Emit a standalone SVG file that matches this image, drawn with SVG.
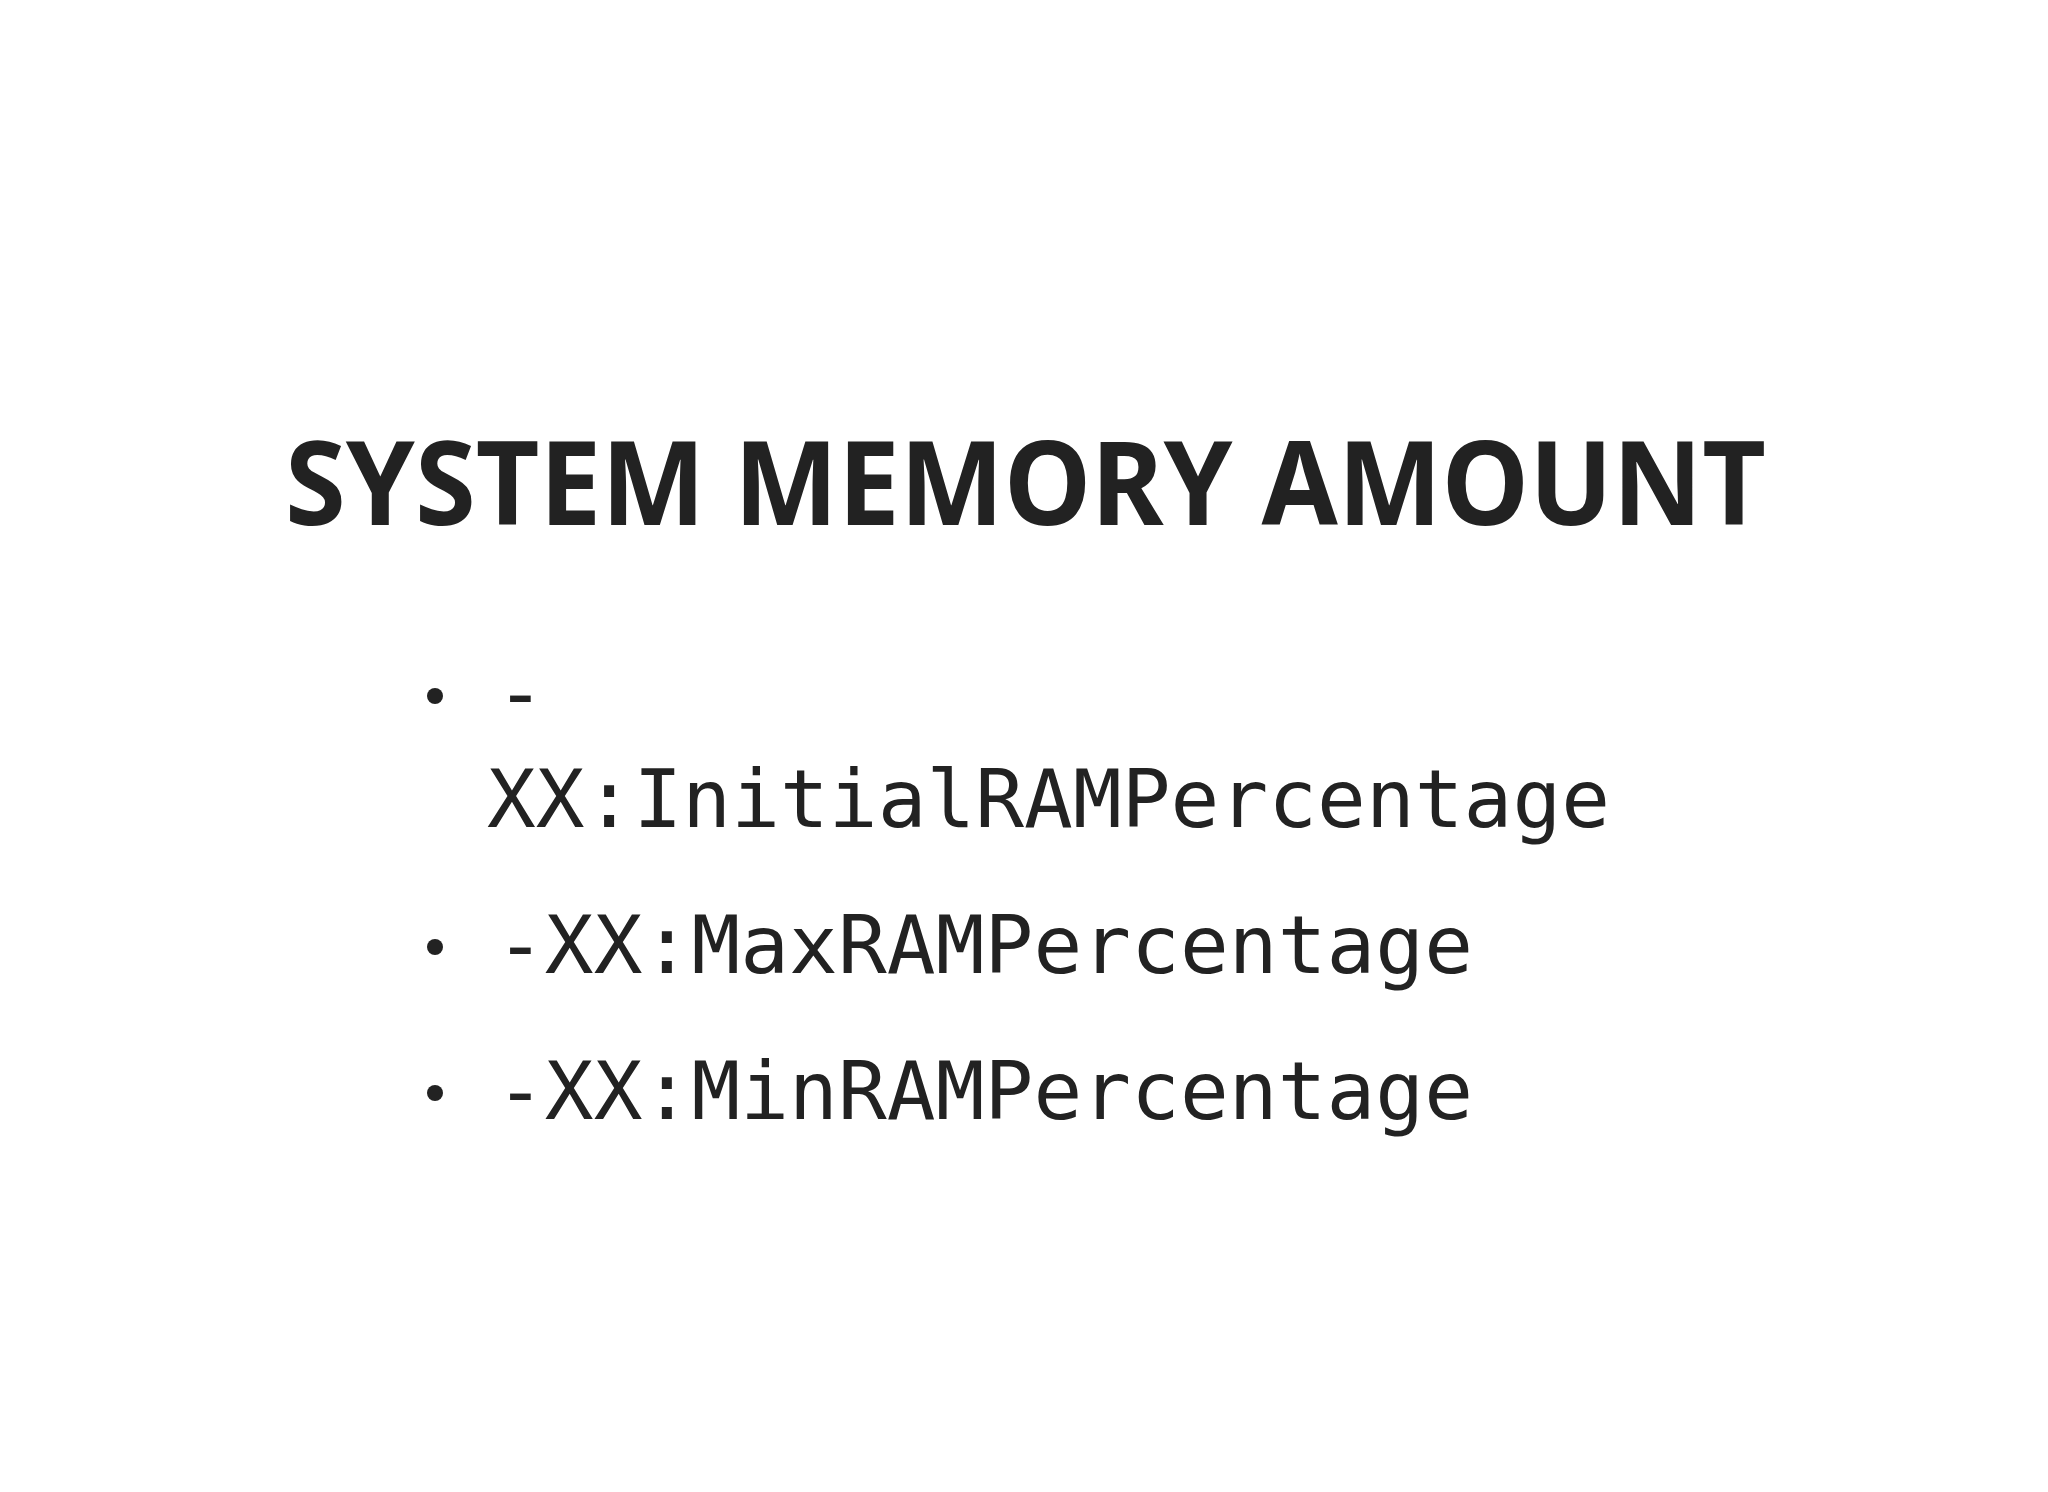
<svg xmlns="http://www.w3.org/2000/svg" width="2048" height="1492" viewBox="0 0 2048 1492">
<style>
.t{font-family:"Noto Sans","Liberation Sans",sans-serif;font-weight:bold;font-size:116px;fill:#222}
.m{font-family:"DejaVu Sans Mono","Liberation Mono",monospace;font-size:81px;fill:#222}
.b{fill:#222}
</style>
<rect width="2048" height="1492" fill="#fff"/>
<g id="title"><text class="t" x="285" y="525" textLength="1481" lengthAdjust="spacingAndGlyphs">SYSTEM MEMORY AMOUNT</text></g>
<g id="item1"><circle class="b" cx="435" cy="696" r="8"/><text class="m" x="496" y="721">-</text><text class="m" x="487" y="827" textLength="1123">XX:InitialRAMPercentage</text></g>
<g id="item2"><circle class="b" cx="435" cy="947" r="8"/><text class="m" x="496" y="973" textLength="977">-XX:MaxRAMPercentage</text></g>
<g id="item3"><circle class="b" cx="435" cy="1093" r="8"/><text class="m" x="496" y="1119" textLength="977">-XX:MinRAMPercentage</text></g>
</svg>
